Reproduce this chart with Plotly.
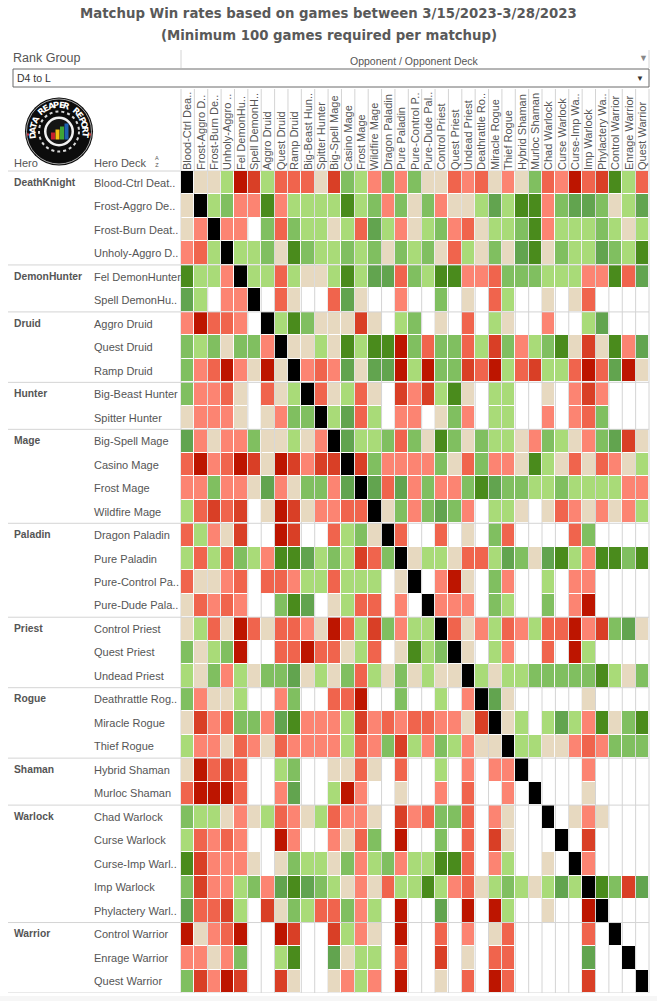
import math
import plotly.graph_objects as go

TITLE_1 = "Matchup Win rates based on games between 3/15/2023-3/28/2023"
TITLE_2 = "(Minimum 100 games required per matchup)"
RANK_VALUE = "D4 to L"

OPPONENT_LABELS = ["Blood-Ctrl Dea..", "Frost-Aggro D..", "Frost-Burn De..", "Unholy-Aggro ..", "Fel DemonHu..",
    "Spell DemonH..", "Aggro Druid", "Quest Druid", "Ramp Druid", "Big-Beast Hun..", "Spitter Hunter",
    "Big-Spell Mage", "Casino Mage", "Frost Mage", "Wildfire Mage", "Dragon Paladin", "Pure Paladin",
    "Pure-Control P..", "Pure-Dude Pal..", "Control Priest", "Quest Priest", "Undead Priest", "Deathrattle Ro..",
    "Miracle Rogue", "Thief Rogue", "Hybrid Shaman", "Murloc Shaman", "Chad Warlock", "Curse Warlock",
    "Curse-Imp Wa..", "Imp Warlock", "Phylactery Wa..", "Control Warrior", "Enrage Warrior", "Quest Warrior"]

DECK_LABELS = ["Blood-Ctrl Deat..", "Frost-Aggro De..", "Frost-Burn Deat..", "Unholy-Aggro D..", "Fel DemonHunter",
    "Spell DemonHu..", "Aggro Druid", "Quest Druid", "Ramp Druid", "Big-Beast Hunter", "Spitter Hunter",
    "Big-Spell Mage", "Casino Mage", "Frost Mage", "Wildfire Mage", "Dragon Paladin", "Pure Paladin",
    "Pure-Control Pa..", "Pure-Dude Pala..", "Control Priest", "Quest Priest", "Undead Priest", "Deathrattle Rog..",
    "Miracle Rogue", "Thief Rogue", "Hybrid Shaman", "Murloc Shaman", "Chad Warlock", "Curse Warlock",
    "Curse-Imp Warl..", "Imp Warlock", "Phylactery Warl..", "Control Warrior", "Enrage Warrior", "Quest Warrior"]

HEROES = ["DeathKnight", "DemonHunter", "Druid", "Hunter", "Mage", "Paladin", "Priest", "Rogue", "Shaman", "Warlock", "Warrior"]
HERO_DECK_COUNTS = [4, 2, 3, 2, 4, 4, 3, 3, 2, 5, 3]

# Colour band of each matchup, A (worst for hero) .. I (best), X = mirror, . = under 100 games
MATCHUP_BANDS = [
    "XEEFABFCCCEBGFDGDGEECDCEDEGCDACBIFC",
    "EXFGDDIDFFFFIFGDGEGDEEFHFIIDGHHGEFH",
    "EDXDD.GCGFFEFCHFDEFGDCEFFGIDFFFGFEF",
    "DCFXFFGEIGFFGFGEGFGECFEGEHIEGFFHGFI",
    "IFFDXFFCFEEFIFHHCGFIIDDCGGGFFFDDICH",
    "HF.DDX.CE..CHE..D..G.E.CF..E.EC....",
    "DACCD.XFIGEEEBE.FG.E.C.FE..D..FH...",
    "GFGEGGDXEEFEIFIIAGCGGCFBGDFGIEBEIDH",
    "GDCADEAEXDCDHEHHAFAGGBCAFCBFFCACHAE",
    "GDDCE.CEFXCEFCE.BDBFIE.FF..E.DBD...",
    "EDDDE.EDGGXFHCF.DD.EGD.FF..D.DCG...",
    "HDEDDGEEFEDXHFFGCGEIGEGFFEDGFEDGHBE",
    "CADCABEABDBBXBGDDDDGECGDDEIFECECDEF",
    "DDGDDEHDEGGDHXHCHDGDDGIHGGFFGFFFFDD",
    "FCBCB.EABEDDCCXEGDGHGD.FFE.ECDEDEDF",
    "CFDEB..AB..CFGEXC..C.E.GC....CG....",
    "FCFCGFDIIHFGFBCGXEFFECCFHGEHIFDIIGI",
    "CEEDC.CCDFFCFFF.EX.DAE.GD..F.DD....",
    "ECDCD..GIH.EFCC.D.XDDD.GF..G.DA....",
    "EFCEACECCDEACFBGDFFXCEDFCDFCCADBGHE",
    "GEFGA..CCACCEFC.EIFGXE.FD..C.AF....",
    "FEGDFEGGHEFEGCFEGEFEEXFEFFGGGGGIFEG",
    "GDEEF..DG..CCA..G..F.DXHE.....E....",
    "EBDCGGDHIDDDFBDCDCCDDEBXEF.FHFDIEGI",
    "FDDECDECDDDDFCDGBFDGFDEEXFFEEDCDGGG",
    "EACBC..FG..EECE.C..F.D.DDX....D....",
    "CAAAC..DH..FAD..E..D.C..D.X...E....",
    "GFFEDEFCDEFCDDE.BDCGGC.DE..X.EDE...",
    "FCDCD..AD..DECG.A..G.C.BE...X.B....",
    "IBDDDE.EGFFEGDFGDFFIIC.DF..E.XD....",
    "GBDDFGDHIHGFEDECFFIFDCEFGFEFHFXIGBH",
    "HCCBF.BEGFCCGDF.A..H.A.AF..E..AX...",
    "AEDCA..AB..BFDE.A..C.D.EC.....C.X..",
    "DDEDG..FI..HEFF.C..B.E.CC.....H..X.",
    "GBDAB..BE..EDFD.A..E.C.AC.....B...X",
]

BAND_WIN_RATES = [38, 41, 44, 47, 50, 53, 56, 59, 62]
BAND_CODES = "ABCDEFGHI"
BAND_COLORS = ["#BD1500", "#D93F26", "#F0644D", "#FC8472", "#E7D9C0", "#A9DB78", "#80BF60", "#62A44F", "#4A8B1C"]

PAGE_W, PAGE_H = 657, 1001
GRID_L, GRID_R, GRID_T, GRID_B = 181, 649, 171, 993
TEXT = "#555555"
FONT = "Liberation Sans"


def px(x):
    return x / PAGE_W


def py(y):
    return 1 - y / PAGE_H


n = len(OPPONENT_LABELS)
win_rates = [[BAND_WIN_RATES[BAND_CODES.index(c)] if c in BAND_CODES else None for c in row] for row in MATCHUP_BANDS]
mirrors = [[1 if c == "X" else None for c in row] for row in MATCHUP_BANDS]

scale = []
for i, c in enumerate(BAND_COLORS):
    scale += [[i / len(BAND_COLORS), c], [(i + 1) / len(BAND_COLORS), c]]

fig = go.Figure()
idx = list(range(n))
fig.add_trace(go.Heatmap(z=win_rates, x=idx, y=idx, zmin=36.5, zmax=63.5, colorscale=scale, showscale=False,
                         xgap=1, ygap=1, hovertemplate="%{z}%<extra></extra>"))
fig.add_trace(go.Heatmap(z=mirrors, x=idx, y=idx, zmin=0, zmax=1, colorscale=[[0, "#000000"], [1, "#000000"]],
                         showscale=False, xgap=1, ygap=1, hoverinfo="skip"))

shapes = []
annotations = []


def text(x, y, s, size=11, color=TEXT, anchor="left", bold=False, family=FONT, yref="paper", angle=0):
    annotations.append(dict(x=px(x), y=y if yref != "paper" else py(y), xref="paper", yref=yref, text=f"<b>{s}</b>" if bold else s,
                            showarrow=False, xanchor=anchor, yanchor="middle", textangle=angle,
                            font=dict(size=size, color=color, family=family), borderpad=0, borderwidth=0))


def line(x0, y0, x1, y1, color="#d4d4d4", width=1):
    shapes.append(dict(type="line", xref="paper", yref="paper", x0=px(x0), x1=px(x1), y0=py(y0), y1=py(y1),
                       line=dict(color=color, width=width), layer="below"))


def circle(cx, cy, r, fill, border=None, dash=None, bw=1, layer="above"):
    shapes.append(dict(type="circle", xref="paper", yref="paper", x0=px(cx - r), x1=px(cx + r), y0=py(cy + r), y1=py(cy - r),
                       fillcolor=fill, line=dict(color=border or fill, width=bw if border else 0, dash=dash or "solid"), layer=layer))


# Titles
text(328.5, 14, TITLE_1, size=13.3, bold=True, anchor="center", family="DejaVu Sans", color="#595959")
text(329, 35, TITLE_2, size=13.3, bold=True, anchor="center", family="DejaVu Sans", color="#595959")

# Filter strip
text(13, 57.5, "Rank Group", size=12.5)
text(414, 60.5, "Opponent / Opponent Deck", size=10.5, anchor="center")
text(643, 58, "▼", size=9, color="#888888", anchor="center")
line(181, 50, 181, 68)
line(649, 50, 649, 68)
shapes.append(dict(type="rect", xref="paper", yref="paper", x0=px(13), x1=px(649), y0=py(87), y1=py(69),
                   line=dict(color="#6a6a6a", width=1), fillcolor="white", layer="below"))
text(17, 78, RANK_VALUE, size=10.5, color="#333333")
text(640, 78, "▼", size=8, color="#333333", anchor="center")

# Column separators run up through the header
for k in range(n + 1):
    xp = GRID_L + (GRID_R - GRID_L) * k / n
    line(xp, 89, xp, GRID_B)

# Row headings
text(14, 163, "Hero", size=11)
text(94, 163, "Hero Deck", size=11)
text(156.5, 162, "A<br>Z", size=5.5, anchor="center", color="#555555")
line(8, GRID_T, GRID_R, GRID_T)
row = 0
for hero, count in zip(HEROES, HERO_DECK_COUNTS):
    text(14, row - 0.02, hero, size=10.3, bold=True, yref="y")
    row += count
    shapes.append(dict(type="line", xref="paper", yref="y", x0=px(8), x1=px(GRID_R), y0=row - 0.5, y1=row - 0.5,
                       line=dict(color="#d4d4d4", width=1), layer="above"))
for i, deck in enumerate(DECK_LABELS):
    text(94, i, deck, size=11, yref="y")

# Footer band
shapes.append(dict(type="rect", xref="paper", yref="paper", x0=0, x1=1, y0=0, y1=py(996),
                   fillcolor="#f6f6f6", line=dict(width=0), layer="below"))

# Logo
LOGO_TEXT = "DATA REAPER REPORT"
cx, cy = 59, 131.5
circle(cx, cy, 34, "#0c0c0c")
circle(cx, cy, 32.5, "rgba(0,0,0,0)", border="#e8e8e8", bw=0.7)
for i, ch in enumerate(LOGO_TEXT):
    a = -98 + 196 * i / (len(LOGO_TEXT) - 1)
    ra = math.radians(a)
    annotations.append(dict(x=px(cx + 26.5 * math.sin(ra)), y=py(cy - 26.5 * math.cos(ra)), xref="paper", yref="paper",
                            text=f"<b>{ch}</b>", showarrow=False, textangle=a, xanchor="center", yanchor="middle",
                            font=dict(size=8.5, color="white", family="DejaVu Sans"), borderpad=0))
circle(cx - 31, cy + 3, 1.2, "#c8323c")
circle(cx + 31, cy + 3, 1.2, "#c8323c")
circle(cx, cy, 20, "#0c0c0c", border="#d8d8d8", dash="dot", bw=2)
circle(cx, cy, 15, "#f2f2f2")
circle(cx, cy, 12.5, "#151515")
for x0, h, c in [(-8, 7, "#c4202c"), (-3.5, 10, "#f2c014"), (1, 13, "#3fa535"), (5.5, 16, "#1e62b0")]:
    shapes.append(dict(type="rect", xref="paper", yref="paper", x0=px(cx + x0), x1=px(cx + x0 + 4),
                       y0=py(cy + 8), y1=py(cy + 8 - h), fillcolor=c, line=dict(width=0), layer="above"))

fig.update_layout(
    width=PAGE_W, height=PAGE_H, margin=dict(l=0, r=0, t=0, b=0), paper_bgcolor="white", plot_bgcolor="rgba(0,0,0,0)",
    showlegend=False, shapes=shapes, annotations=annotations, font=dict(family=FONT, color=TEXT),
    xaxis=dict(domain=[px(GRID_L), px(GRID_R)], range=[-0.5, n - 0.5], side="top", tickmode="array", tickvals=idx,
               ticktext=OPPONENT_LABELS, tickangle=-90, ticks="", showgrid=False, zeroline=False, showline=False,
               tickfont=dict(size=11, color=TEXT, family=FONT), fixedrange=True),
    yaxis=dict(domain=[py(GRID_B), py(GRID_T)], range=[n - 0.5, -0.5], showticklabels=False, ticks="", showgrid=False,
               zeroline=False, showline=False, fixedrange=True),
)

fig.write_html("out.html", config={"displayModeBar": False},
               post_script="document.body.style.margin='0';document.body.style.overflow='hidden';")
